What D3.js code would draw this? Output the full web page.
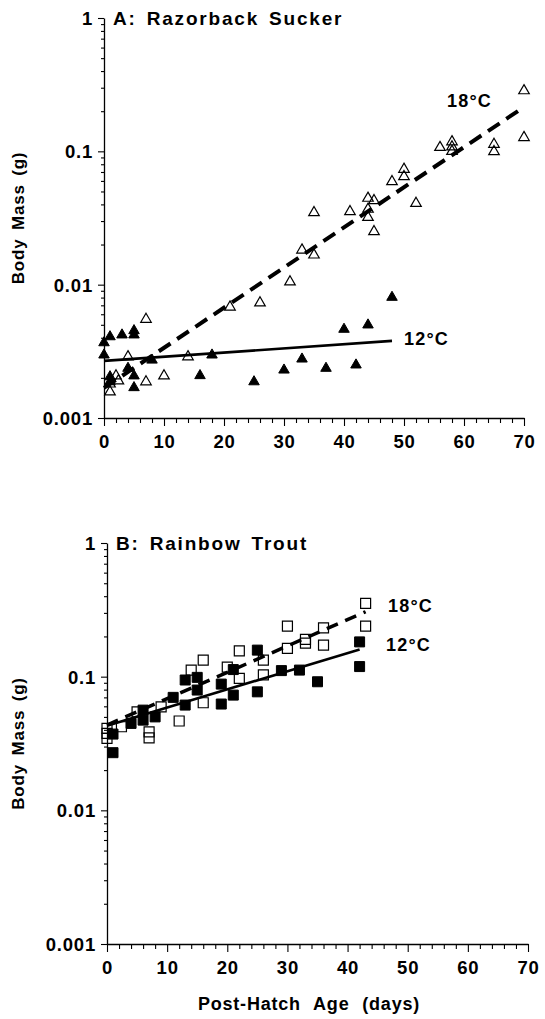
<!DOCTYPE html>
<html>
<head>
<meta charset="utf-8">
<script src="https://cdn.jsdelivr.net/npm/d3@7"></script>
<style>
  body { margin: 0; background: #fff; }
  svg { display: block; font-family: "Liberation Sans", Arial, sans-serif; font-weight: bold; }
</style>
</head>
<body>
<svg id="chart" width="545" height="1019"></svg>
<script>
// ---- data ----
// A: Razorback Sucker, 18°C (open triangles)
const sucker18Days = [1, 1, 2, 2.4, 4, 7, 7, 10, 14, 21, 26, 31, 33, 35, 35, 41, 44, 45, 44, 44, 45, 48, 50, 50, 52, 56, 58, 58, 58, 65, 65, 70, 70];
const sucker18Mass = [0.00157, 0.0018, 0.00207, 0.0019, 0.00288, 0.0055, 0.00187, 0.00207, 0.00288, 0.0068, 0.0073, 0.0105, 0.0182, 0.0167, 0.0347, 0.0353, 0.0445, 0.0427, 0.0368, 0.032, 0.025, 0.0593, 0.0734, 0.0646, 0.0407, 0.107, 0.118, 0.108, 0.1, 0.113, 0.0995, 0.285, 0.127];
// A: Razorback Sucker, 12°C (filled triangles)
const sucker12Days = [0, 0, 1, 1, 1, 3, 4, 5, 5, 5, 5, 8, 16, 18, 25, 30, 33, 37, 40, 42, 44, 48];
const sucker12Mass = [0.00367, 0.00297, 0.00407, 0.00204, 0.00187, 0.0042, 0.00236, 0.00452, 0.0042, 0.00207, 0.00169, 0.00272, 0.00208, 0.00297, 0.00187, 0.00229, 0.00277, 0.00236, 0.00463, 0.0025, 0.00499, 0.00804];
// B: Rainbow Trout, 18°C (open squares)
const trout18Days = [0, 0, 0, 2.4, 5, 7, 7, 9, 12, 14, 16, 16, 20, 22, 22, 26, 26, 30, 30, 33, 33, 36, 36, 43, 43];
const trout18Mass = [0.041, 0.0377, 0.0346, 0.0422, 0.0546, 0.0387, 0.0349, 0.0595, 0.0466, 0.112, 0.133, 0.0638, 0.118, 0.156, 0.097, 0.133, 0.103, 0.239, 0.163, 0.19, 0.178, 0.232, 0.172, 0.353, 0.239];
// B: Rainbow Trout, 12°C (filled squares)
const trout12Days = [1, 1, 4, 6, 6, 8, 11, 13, 13, 15, 15, 19, 19, 21, 21, 25, 25, 29, 32, 35, 42, 42];
const trout12Mass = [0.0372, 0.027, 0.0447, 0.0562, 0.0473, 0.05, 0.07, 0.0944, 0.0613, 0.0988, 0.0794, 0.088, 0.0624, 0.113, 0.0728, 0.158, 0.077, 0.111, 0.112, 0.0916, 0.182, 0.119];

// fitted lines: [start day, end day], [start mass, end mass]
const sucker18FitDays = [0, 70], sucker18FitMass = [0.00168, 0.215];
const sucker12FitDays = [0, 48], sucker12FitMass = [0.00268, 0.00379];
const trout18FitDays = [0, 43], trout18FitMass = [0.0435, 0.306];
const trout12FitDays = [0, 42], trout12FitMass = [0.043, 0.16];

const xMajorTicks = [0, 10, 20, 30, 40, 50, 60, 70];
const yMajorTicks = [0.001, 0.01, 0.1, 1];
const yTickLabels = ["0.001", "0.01", "0.1", "1"];

const svg = d3.select("#chart");
const zip = (xs, ys) => xs.map((d, i) => ({day: d, mass: ys[i]}));

function drawPanel(cfg) {
  const x = d3.scaleLinear().domain([0, 70]).range([cfg.left, cfg.right]);
  const y = d3.scaleLog().domain([0.001, 1]).range([cfg.bottom, cfg.top]);
  const g = svg.append("g");

  // minor ticks
  const xMinor = d3.range(0, 71, 2).filter(d => d % 10 !== 0);
  const yMinor = [];
  yMajorTicks.slice(0, 3).forEach(p => d3.range(2, 10).forEach(k => yMinor.push(p * k)));

  g.append("g")
    .attr("transform", `translate(0,${cfg.bottom})`)
    .call(d3.axisBottom(x).tickValues(xMinor).tickSize(5).tickFormat(""))
    .call(a => a.select(".domain").remove());
  g.append("g")
    .attr("transform", `translate(${cfg.left},0)`)
    .call(d3.axisLeft(y).tickValues(yMinor).tickSize(3).tickFormat(""))
    .call(a => a.select(".domain").remove());

  const xAxis = g.append("g")
    .attr("transform", `translate(0,${cfg.bottom})`)
    .call(d3.axisBottom(x).tickValues(xMajorTicks).tickSizeInner(8).tickSizeOuter(0).tickPadding(4));
  const yAxis = g.append("g")
    .attr("transform", `translate(${cfg.left},0)`)
    .call(d3.axisLeft(y).tickValues(yMajorTicks).tickSizeInner(6).tickSizeOuter(0).tickPadding(5)
      .tickFormat((d, i) => yTickLabels[i]));

  [xAxis, yAxis].forEach(a => {
    a.selectAll("text").attr("fill", "#000").style("font-size", "18.5px").style("font-weight", "bold")
      .style("letter-spacing", "0.8px");
    a.select(".domain").attr("stroke", "#000").attr("stroke-width", 1.3);
  });
  g.selectAll(".tick line").attr("stroke", "#000").attr("stroke-width", 1.1);
  yAxis.selectAll("text").attr("dy", "0.35em");
  xAxis.selectAll("text").attr("dy", "0.95em");

  // panel title
  g.append("text")
    .attr("x", cfg.left + 9)
    .attr("y", cfg.top + 7)
    .style("font-size", "19px")
    .style("letter-spacing", "1.8px")
    .style("word-spacing", "3px")
    .text(cfg.title);

  // y axis title
  g.append("text")
    .attr("transform", "rotate(-90)")
    .attr("x", -(cfg.top + cfg.bottom) / 2)
    .attr("y", 24)
    .attr("text-anchor", "middle")
    .style("font-size", "17px")
    .style("letter-spacing", "0.8px")
    .style("word-spacing", "3px")
    .text("Body Mass (g)");

  const line = d3.line().x(d => x(d.day)).y(d => y(d.mass));

  // fit lines
  g.append("path")
    .datum(zip(cfg.solidDays, cfg.solidMass))
    .attr("d", line)
    .attr("fill", "none")
    .attr("stroke", "#000")
    .attr("stroke-width", 2.6);
  g.append("path")
    .datum(zip(cfg.dashDays, cfg.dashMass))
    .attr("d", line)
    .attr("fill", "none")
    .attr("stroke", "#000")
    .attr("stroke-width", cfg.dashWidth)
    .attr("stroke-dasharray", cfg.dashArray);

  // points
  const sym = d3.symbol().type(cfg.symbol).size(cfg.symbolSize);
  g.append("g")
    .selectAll("path")
    .data(zip(cfg.openDays, cfg.openMass))
    .join("path")
    .attr("transform", d => `translate(${x(d.day)},${y(d.mass)})`)
    .attr("d", sym)
    .attr("fill", "none")
    .attr("stroke", "#000")
    .attr("stroke-width", 1.2);
  g.append("g")
    .selectAll("path")
    .data(zip(cfg.filledDays, cfg.filledMass))
    .join("path")
    .attr("transform", d => `translate(${x(d.day)},${y(d.mass)})`)
    .attr("d", sym)
    .attr("fill", "#000")
    .attr("stroke", "#000")
    .attr("stroke-width", 1);

  // temperature labels
  cfg.labels.forEach(l => {
    g.append("text")
      .attr("x", l.x)
      .attr("y", l.y)
      .style("font-size", "18px")
      .style("letter-spacing", "1.2px")
      .text(l.text);
  });
}

drawPanel({
  title: "A: Razorback Sucker",
  left: 104, right: 524, top: 18, bottom: 418,
  openDays: sucker18Days, openMass: sucker18Mass,
  filledDays: sucker12Days, filledMass: sucker12Mass,
  dashDays: sucker18FitDays, dashMass: sucker18FitMass,
  solidDays: sucker12FitDays, solidMass: sucker12FitMass,
  dashWidth: 4, dashArray: "14,8",
  symbol: d3.symbolTriangle, symbolSize: 48,
  labels: [{text: "18°C", x: 447, y: 107}, {text: "12°C", x: 404, y: 345}]
});

drawPanel({
  title: "B: Rainbow Trout",
  left: 107, right: 528, top: 543, bottom: 944,
  openDays: trout18Days, openMass: trout18Mass,
  filledDays: trout12Days, filledMass: trout12Mass,
  dashDays: trout18FitDays, dashMass: trout18FitMass,
  solidDays: trout12FitDays, solidMass: trout12FitMass,
  dashWidth: 3.5, dashArray: "12,8",
  symbol: d3.symbolSquare, symbolSize: 100,
  labels: [{text: "18°C", x: 388, y: 612}, {text: "12°C", x: 386, y: 651}]
});

svg.append("text")
  .attr("x", 309)
  .attr("y", 1010)
  .attr("text-anchor", "middle")
  .style("font-size", "18px")
  .style("letter-spacing", "0.8px")
  .style("word-spacing", "7px")
  .text("Post-Hatch Age (days)");
</script>
</body>
</html>
